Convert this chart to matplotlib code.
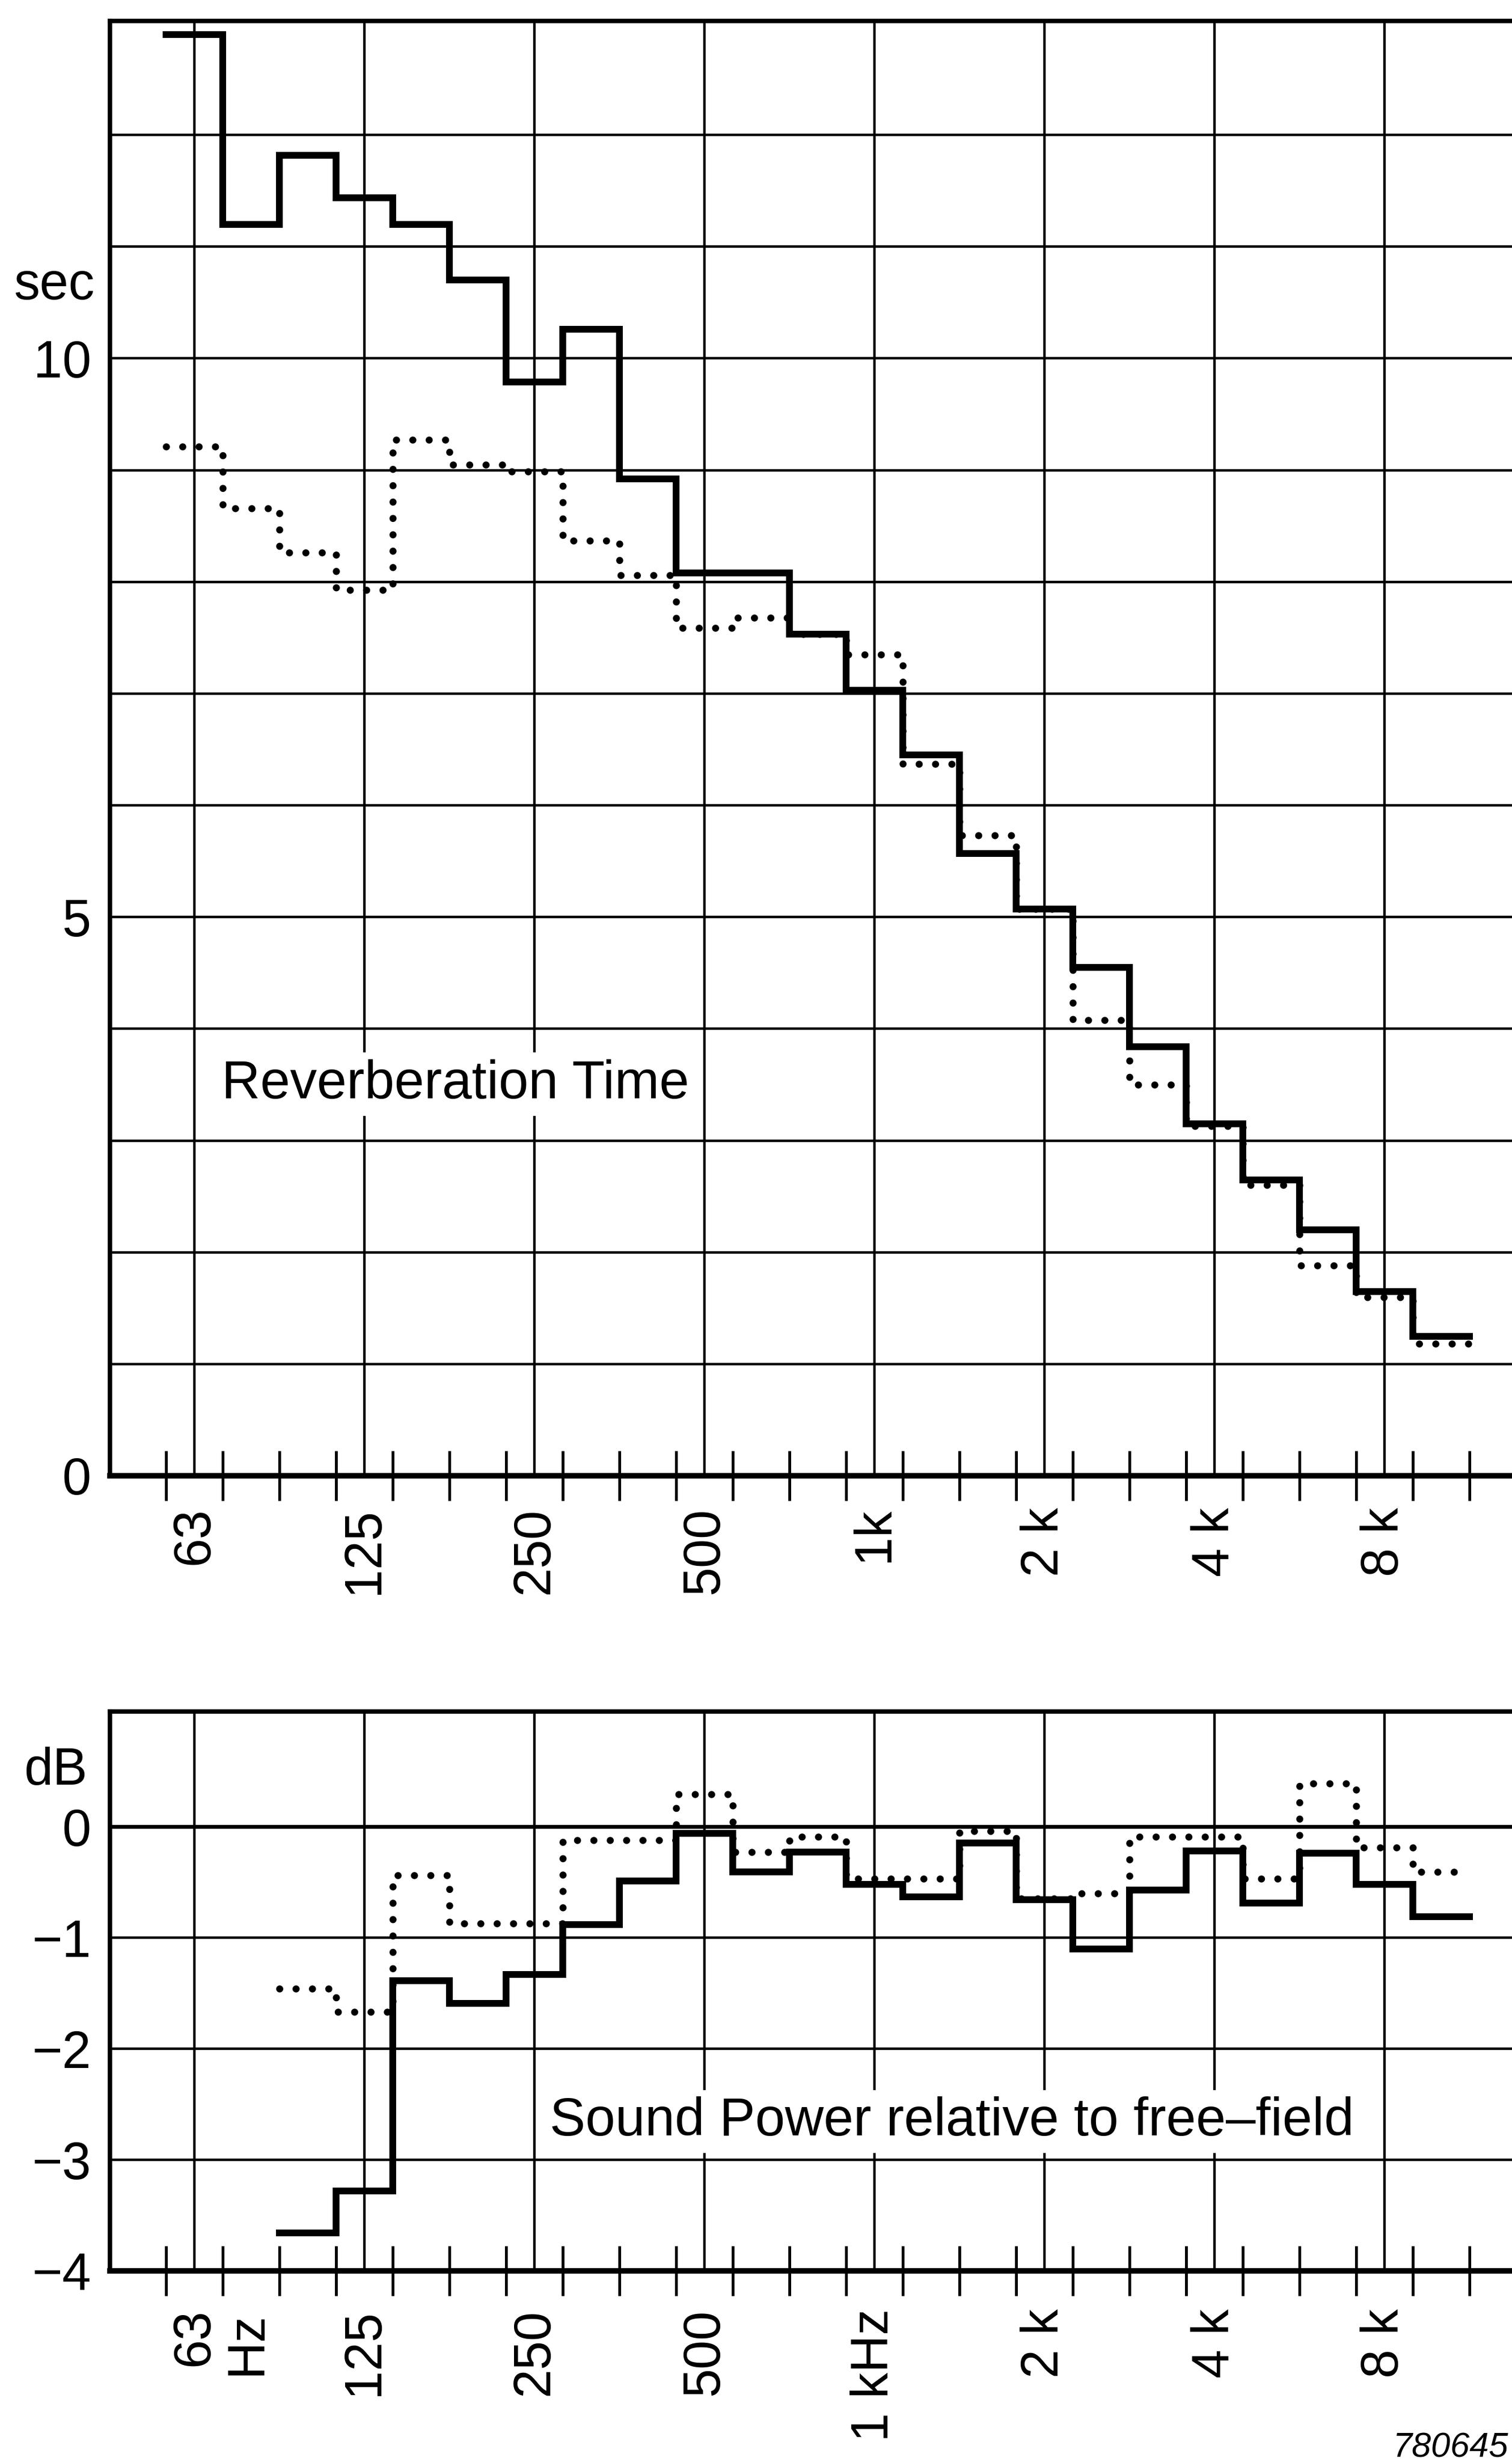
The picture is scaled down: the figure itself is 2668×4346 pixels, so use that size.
import matplotlib
matplotlib.use("Agg")
import matplotlib.pyplot as plt
import numpy as np
from matplotlib.ticker import FixedLocator

plt.rcParams['font.family'] = ['Liberation Sans', 'DejaVu Sans']

W, H, DPI = 2668, 4346, 200

# third-octave bands, x position = index in this list
bands = ["63", "80", "100", "125", "160", "200", "250", "315", "400", "500",
         "630", "800", "1k", "1.25k", "1.6k", "2k", "2.5k", "3.15k", "4k",
         "5k", "6.3k", "8k", "10k"]

# reverberation time (sec), all 23 bands
rt_solid = [12.9, 11.2, 11.82, 11.44, 11.2, 10.7, 9.79, 10.26, 8.92, 8.08,
            8.08, 7.53, 7.03, 6.45, 5.57, 5.07, 4.55, 3.84, 3.15, 2.65,
            2.2, 1.65, 1.25]
rt_dotted = [9.21, 8.66, 8.26, 7.93, 9.27, 9.05, 8.99, 8.37, 8.06, 7.59,
             7.68, 7.53, 7.35, 6.37, 5.73, 5.07, 4.08, 3.5, 3.13, 2.6,
             1.88, 1.6, 1.18]

# sound power relative to free-field (dB), from 100 Hz up
sp_first = bands.index("100")
sp_solid = [-3.66, -3.28, -1.39, -1.59, -1.33, -0.88, -0.49, -0.06, -0.41,
            -0.23, -0.52, -0.63, -0.15, -0.66, -1.1, -0.57, -0.22, -0.69,
            -0.24, -0.52, -0.81]
sp_dotted = [-1.46, -1.67, -0.44, -0.87, -0.87, -0.12, -0.12, 0.29, -0.23,
             -0.09, -0.47, -0.47, -0.04, -0.65, -0.6, -0.09, -0.09, -0.47,
             0.39, -0.19, -0.41]

octaves = ["63", "125", "250", "500", "1k", "2k", "4k", "8k"]
top_xlabels = ["63", "125", "250", "500", "1k", "2 k", "4 k", "8 k"]
bot_xlabels = ["63", "125", "250", "500", "1 kHz", "2 k", "4 k", "8 k"]

rt_yticks = list(range(0, 13))
rt_ylabels = ["0", "", "", "", "", "5", "", "", "", "", "10", "", ""]
sp_yticks = [-4, -3, -2, -1, 0]
sp_ylabels = ["\u22124", "\u22123", "\u22122", "\u22121", "0"]


def box(l, t, r, b):
    return [l / W, 1 - b / H, (r - l) / W, (b - t) / H]


def step(ax, first, vals, **kw):
    edges = np.arange(first, first + len(vals) + 1) - 0.5
    ax.plot(edges, np.append(vals, vals[-1]), drawstyle='steps-post',
            color='black', **kw)


def style(ax, ylim, yticks, ylabels, xlabels, xpad):
    ax.set_xlim(-1.49, 23.25)
    ax.set_ylim(*ylim)
    ax.xaxis.set_major_locator(FixedLocator([bands.index(b) for b in octaves]))
    ax.set_xticklabels(xlabels, rotation=90, fontsize=33)
    ax.xaxis.set_minor_locator(FixedLocator(np.arange(len(bands) + 1) - 0.5))
    ax.tick_params(axis='x', which='major', length=0, pad=xpad)
    ax.tick_params(axis='x', which='minor', direction='inout', length=32,
                   width=1.8, color='black')
    ax.set_yticks(yticks)
    ax.set_yticklabels(ylabels, fontsize=33)
    ax.tick_params(axis='y', length=0, pad=12)
    ax.grid(True, which='major', color='black', lw=1.6, zorder=1)
    ax.set_axisbelow(True)
    ax.spines['right'].set_visible(False)
    ax.spines['left'].set_linewidth(2.8)
    ax.spines['top'].set_linewidth(2.8)
    ax.spines['bottom'].set_linewidth(3.5)


fig = plt.figure(figsize=(W / DPI, H / DPI), dpi=DPI)
ax1 = fig.add_axes(box(194, 37, 2668, 2604))
ax2 = fig.add_axes(box(194, 3020, 2668, 4007))

solid_kw = dict(lw=4.3, solid_joinstyle='miter', zorder=3)
dot_kw = dict(lw=4.5, linestyle=(0, (0.01, 2.3)), dash_capstyle='round', zorder=4)
label_bg = dict(facecolor='white', edgecolor='none', pad=4)

step(ax1, 0, rt_solid, **solid_kw)
step(ax1, 0, rt_dotted, **dot_kw)
style(ax1, (0, 13.02), rt_yticks, rt_ylabels, top_xlabels, 20)
ax1.text(-0.011, 10.53, "sec", ha='right', va='baseline', fontsize=33,
         transform=ax1.get_yaxis_transform())
ax1.text(0.48, 3.38, "Reverberation Time", fontsize=34, va='baseline',
         bbox=label_bg, zorder=2)

step(ax2, sp_first, sp_solid, **solid_kw)
step(ax2, sp_first, sp_dotted, **dot_kw)
style(ax2, (-4, 1.036), sp_yticks, sp_ylabels, bot_xlabels, 24)
ax2.axhline(0, color='black', lw=2.4, zorder=1)
ax2.text(-0.016, 0.38, "dB", ha='right', va='baseline', fontsize=33,
         transform=ax2.get_yaxis_transform())
ax2.text(0.93, -0.073, "Hz", rotation=90, ha='center', va='top', fontsize=33,
         transform=ax2.get_xaxis_transform())
ax2.text(6.27, -2.78, "Sound Power relative to free\u2013field", fontsize=34,
         va='baseline', bbox=label_bg, zorder=2)

fig.text(2662 / W, 1 - 4336 / H, "780645", fontsize=22, style='italic',
         va='baseline', ha='right')

fig.savefig("out.png", dpi=DPI)
